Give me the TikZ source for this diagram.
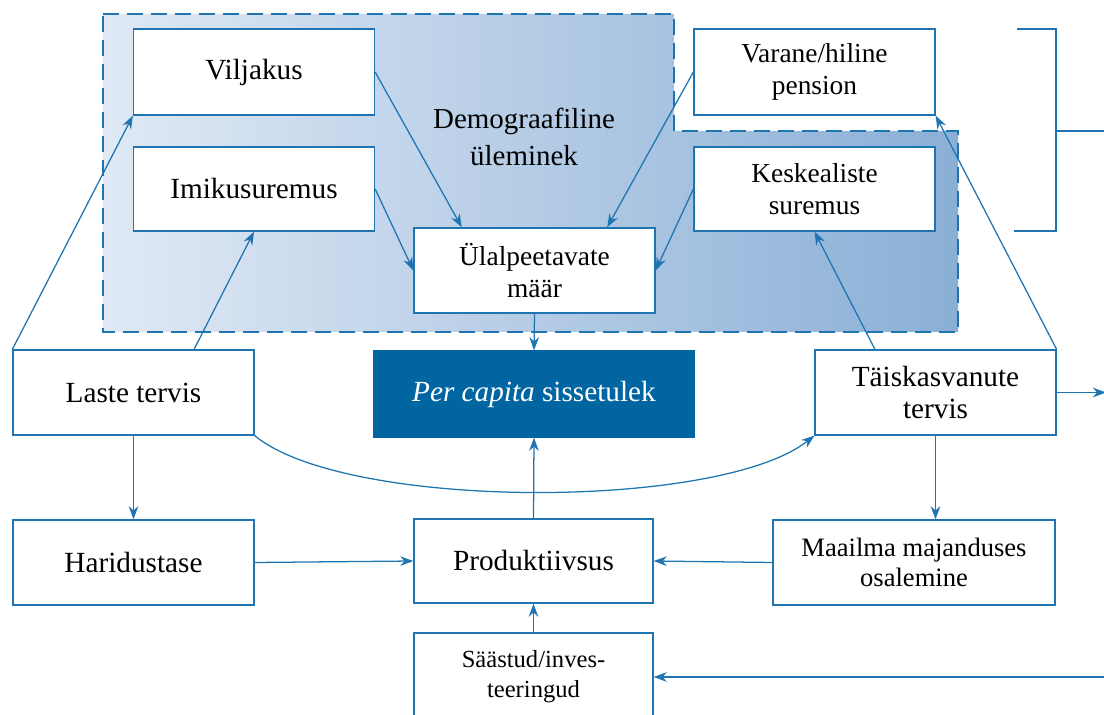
\documentclass[tikz,border=0pt]{standalone}
\usepackage{fontspec}
\setmainfont{Liberation Serif}
\usepackage{xcolor}
\usepackage{tikz}
\usetikzlibrary{arrows.meta,positioning,calc}
\definecolor{LineBlue}{RGB}{31,117,178}
\definecolor{IncomeBlue}{RGB}{0,101,161}
\definecolor{ShadeLight}{RGB}{224,233,245}
\definecolor{ShadeDark}{RGB}{138,175,214}
\tikzset{
    box/.style={draw=LineBlue, line width=0.9pt, fill=white, minimum width=6.025cm, minimum height=2.125cm, align=center, inner sep=2pt, font=\fontsize{20.8}{22.8}\selectfont},
    midbox/.style={box, font=\fontsize{19.5}{22.8}\selectfont},
    smallbox/.style={box, font=\fontsize{17.5}{21.3}\selectfont},
    incomebox/.style={box, draw=IncomeBlue, fill=IncomeBlue, text=white, minimum width=8cm, minimum height=2.15cm},
    arr/.style={-{Stealth[length=3.3mm,width=2.4mm]}, line width=0.9pt, draw=LineBlue},
    plainline/.style={line width=0.9pt, draw=LineBlue},
    demoregion/.style={draw=LineBlue, line width=1.4pt, dash pattern=on 0.4cm off 0.2cm, left color=ShadeLight, right color=ShadeDark},
}
\begin{document}
\begin{tikzpicture}
\useasboundingbox (0,0) rectangle (27.6,17.875);

\draw[demoregion] (2.575,17.525) -- (16.85,17.525) -- (16.85,14.6) -- (23.95,14.6) -- (23.95,9.575) -- (2.575,9.575) -- cycle;
\node[font=\fontsize{20.6}{26}\selectfont, align=center] (demo) at (13.1,14.45) {Demograafiline\\üleminek};

\node[box, minimum height=2.15cm] (viljakus) at (6.35,16.075) {Viljakus};
\node[box, minimum height=2.1cm] (imikus) at (6.35,13.15) {Imikusuremus};
\node[midbox] (ulalpeet) at (13.3625,11.1125) {Ülalpeetavate\\määr};
\node[midbox, minimum height=2.15cm] (pension) at (20.3625,16.075) {Varane/hiline\\pension};
\node[midbox, minimum height=2.1cm] (keskeal) at (20.3625,13.15) {Keskealiste\\suremus};
\node[box] (lastetervis) at (3.3375,8.0625) {Laste tervis};
\node[incomebox] (sissetulek) at (13.35,8.025) {\textit{Per capita} sissetulek};
\node[box] (taiskasv) at (23.3875,8.0625) {Täiskasvanute\\tervis};
\node[box] (haridus) at (3.3375,3.8125) {Haridustase};
\node[box, minimum width=5.975cm, minimum height=2.1cm] (produkt) at (13.3375,3.85) {Produktiivsus};
\node[smallbox, font=\fontsize{18.9}{21.3}\selectfont, minimum width=7.05cm] (maailm) at (22.85,3.8125) {Maailma majanduses\\osalemine};
\node[smallbox, minimum width=5.975cm, minimum height=2.2cm] (saastud) at (13.3375,0.95) {Säästud/inves-\\teeringud};

\coordinate (saastin) at (27.7,0.95);
\coordinate (tervisout) at (27.65,8.0625);
\coordinate (brkmid) at (26.4,14.6);
\coordinate (brkout) at (27.7,14.6);

\draw[plainline] (25.425,17.15) -| (26.4,12.1) -- (25.35,12.1);
\draw[plainline] (brkmid) -- (brkout);

\draw[arr] (lastetervis.north west) -- (viljakus.south west);
\draw[arr] ($(lastetervis.north)!0.5!(lastetervis.north east)$) -- (imikus.south);
\draw[arr] (viljakus.east) -- ($(ulalpeet.north west)!0.2!(ulalpeet.north east)$);
\draw[arr] (imikus.east) -- (ulalpeet.west);
\draw[arr] (pension.west) -- ($(ulalpeet.north west)!0.8!(ulalpeet.north east)$);
\draw[arr] (keskeal.west) -- (ulalpeet.east);
\draw[arr] (ulalpeet.south) -- (sissetulek.north);
\draw[arr] ($(taiskasv.north west)!0.25!(taiskasv.north east)$) -- (keskeal.south);
\draw[arr] (taiskasv.north east) -- (pension.south east);
\draw[arr] (lastetervis.south east) .. controls +(2.275,-1.875) and +(-2.375,-1.875) .. (taiskasv.south west);
\draw[arr] (lastetervis.south) -- (haridus.north);
\draw[arr] (taiskasv.south) -- (taiskasv.south |- maailm.north);
\draw[arr] (haridus.east) -- (produkt.west);
\draw[arr] (maailm.west) -- (produkt.east);
\draw[arr] (produkt.north) -- (sissetulek.south);
\draw[arr] (saastud.north) -- (produkt.south);
\draw[arr] (saastin) -- (saastud.east);
\draw[arr] (taiskasv.east) -- (tervisout);
\end{tikzpicture}
\end{document}
